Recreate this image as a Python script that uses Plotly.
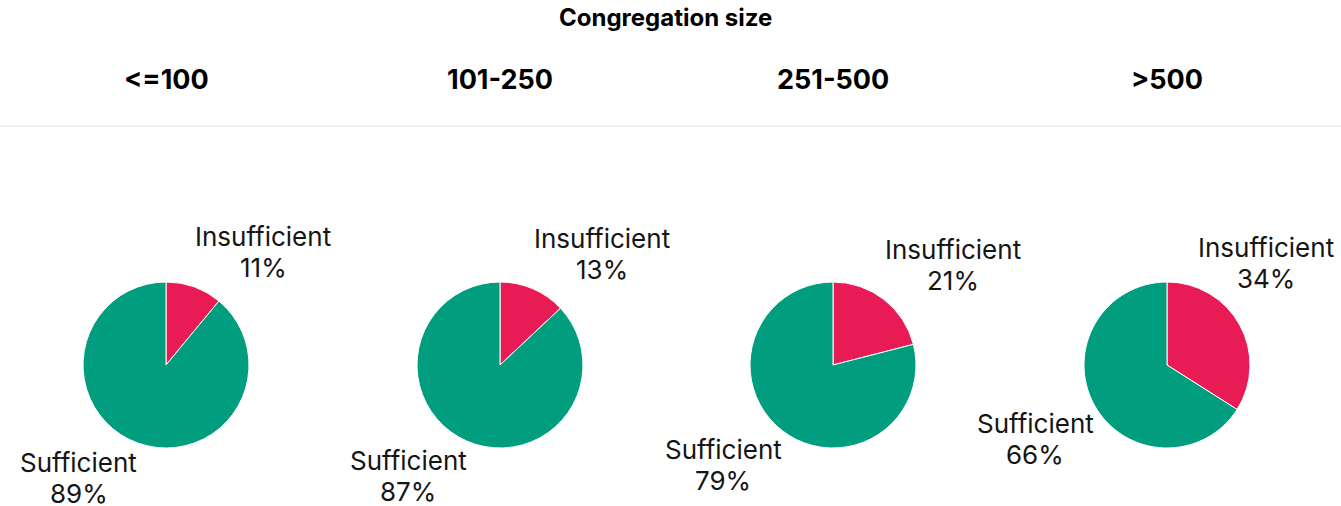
import math
import plotly.graph_objects as go

groups = ["<=100", "101-250", "251-500", ">500"]
labels = ["Insufficient", "Sufficient"]
insufficient = [11, 13, 21, 34]
sufficient = [89, 87, 79, 66]
colors = ["#E91B55", "#009E7F"]
title_text = "Congregation size"

W, H = 1341, 506
centers_px = [166, 500, 833, 1167]
cy_px = 365
r_px = 83
label_font = 26
label_widths = {"Insufficient": 138, "Sufficient": 118}
line_gap = 31      # distance between the two label lines
near_off = 19      # distance from rim anchor to the nearer line centre

fig = go.Figure()
for i, g in enumerate(groups):
    cx = centers_px[i]
    vals = [insufficient[i], sufficient[i]]
    fig.add_trace(go.Pie(
        labels=labels,
        values=vals,
        sort=False,
        direction="clockwise",
        rotation=0,
        marker=dict(colors=colors, line=dict(color="white", width=1)),
        textinfo="none",
        hoverinfo="label+percent",
        showlegend=False,
        domain=dict(x=[(cx - r_px) / W, (cx + r_px) / W],
                    y=[1 - (cy_px + r_px) / H, 1 - (cy_px - r_px) / H]),
    ))
    fig.add_annotation(x=cx / W, y=1 - 79 / H, xref="paper", yref="paper",
                       text=f"<b>{g}</b>", showarrow=False,
                       font=dict(family="Inter", size=27, color="#000000"),
                       xanchor="center", yanchor="middle")
    # slice labels anchored at each slice's mid-angle point on the rim
    total = sum(vals)
    start = 0.0
    for lab, v in zip(labels, vals):
        mid = (start + v / 2) / total * 2 * math.pi
        start += v
        ax = r_px * math.sin(mid)
        ay = -r_px * math.cos(mid)
        right = ax >= 0
        width = label_widths[lab]
        if right and cx + ax + width > W - 6:
            ax = (W - 6) - width - cx
            ay = -math.sqrt(max(r_px ** 2 - ax ** 2, 0)) + 10
        tx = cx + ax + (width / 2 if right else -width / 2)
        if ay < 0:
            y_pct = cy_px + ay - near_off
            y_name = y_pct - line_gap
        else:
            y_name = cy_px + ay + near_off
            y_pct = y_name + line_gap
        for txt, yy in ((lab, y_name), (f"{round(v / total * 100)}%", y_pct)):
            fig.add_annotation(
                x=tx / W, y=1 - yy / H,
                xref="paper", yref="paper", showarrow=False,
                text=txt, borderpad=0,
                xanchor="center", yanchor="middle",
                font=dict(family="Inter", size=label_font, color="#151515"),
            )

fig.add_annotation(x=665 / W, y=1 - 17 / H, xref="paper", yref="paper",
                   text=f"<b>{title_text}</b>", showarrow=False,
                   font=dict(family="Inter", size=24, color="#000000"),
                   xanchor="center", yanchor="middle")
fig.add_shape(type="line", xref="paper", yref="paper", x0=0, x1=1,
              y0=1 - 126 / H, y1=1 - 126 / H,
              line=dict(color="#E5E5E5", width=1))

fig.update_layout(width=W, height=H, margin=dict(l=0, r=0, t=0, b=0),
                  paper_bgcolor="white", plot_bgcolor="white")
fig.write_html("out.html", config={"displayModeBar": False},
               post_script="document.body.style.margin='0';document.body.style.overflow='hidden';")
